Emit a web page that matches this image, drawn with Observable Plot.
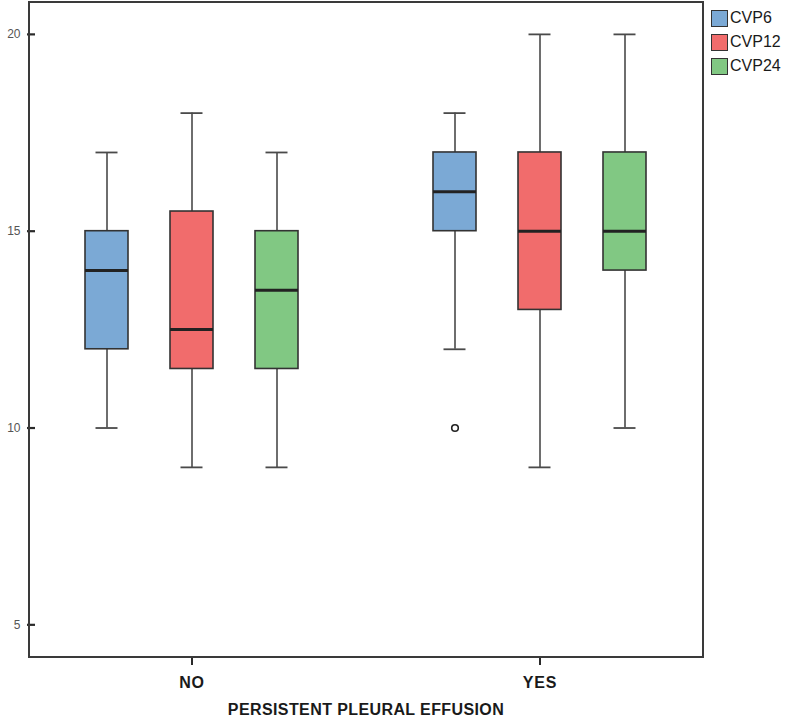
<!DOCTYPE html>
<html>
<head>
<meta charset="utf-8">
<script src="https://cdn.jsdelivr.net/npm/d3@7"></script>
<script src="https://cdn.jsdelivr.net/npm/@observablehq/plot@0.6"></script>
<style>
  html, body { margin: 0; padding: 0; background: #fff; overflow: hidden; }
  #wrap { position: relative; width: 788px; height: 719px; font-family: "Liberation Sans", Arial, sans-serif; }
  #wrap svg { display: block; }
  [aria-label^="fx-axis"] text { font-size: 16px; font-weight: bold; fill: #1a1a1a; letter-spacing: 0.8px; }
  [aria-label^="fx-axis"] line, [aria-label^="fx-axis"] path { stroke: #2a2a2a; stroke-width: 2; }
  [aria-label^="y-axis"] text { fill: #555; }
  [aria-label^="y-axis"] line, [aria-label^="y-axis"] path { stroke: #2a2a2a; stroke-width: 2.2; }
  #title { position: absolute; left: 29px; width: 674px; top: 702px; text-align: center;
           font-size: 16px; line-height: 16px; font-weight: bold; color: #1a1a1a; letter-spacing: 0.4px; }
  #legend { position: absolute; left: 711px; top: 6px; }
  .item { display: flex; align-items: center; height: 24px; }
  .sw { width: 15px; height: 15px; border: 1.5px solid #333; box-sizing: content-box; }
  .lab { margin-left: 2px; font-size: 16px; color: #1a1a1a; }
</style>
</head>
<body>
<div id="wrap"></div>
<script>
const groups = ["NO", "YES"];
const series = ["CVP6", "CVP12", "CVP24"];
const colors = ["#7ba9d5", "#f16c6c", "#81c883"];
const yTicks = [5, 10, 15, 20];

// order: NO-CVP6, NO-CVP12, NO-CVP24, YES-CVP6, YES-CVP12, YES-CVP24
const lowWhisker  = [10, 9, 9, 12, 9, 10];
const q1          = [12, 11.5, 11.5, 15, 13, 14];
const median      = [14, 12.5, 13.5, 16, 15, 15];
const q3          = [15, 15.5, 15, 17, 17, 17];
const highWhisker = [17, 18, 17, 18, 20, 20];
const outlier     = [null, null, null, 10, null, null];

const rows = [];
groups.forEach((g, gi) => series.forEach((s, si) => {
  const i = gi * series.length + si;
  rows.push({group: g, series: s, lo: lowWhisker[i], q1: q1[i], med: median[i], q3: q3[i], hi: highWhisker[i], out: outlier[i]});
}));

const W = 788, H = 719, mL = 29, mR = 85, mT = 2, mB = 62;

const chart = Plot.plot({
  width: W, height: H,
  marginLeft: mL, marginRight: mR, marginTop: mT, marginBottom: mB,
  style: {fontFamily: "'Liberation Sans', Arial, sans-serif", fontSize: "12px", color: "#2a2a2a", background: "white"},
  facet: {data: rows, x: "group"},
  fx: {domain: groups, paddingInner: 0.1, paddingOuter: 0.017, tickSize: 8, tickPadding: 11.5, label: null},
  x: {domain: series, paddingInner: 0.5, paddingOuter: 0.576, axis: null},
  y: {domain: [4.17, 20.81], ticks: yTicks, tickSize: 8, tickPadding: 7, label: null, tickFormat: d => String(d)},
  color: {domain: series, range: colors},
  marks: [
    Plot.ruleX(rows, {x: "series", y1: "lo", y2: "hi", stroke: "#4a4a4a", strokeWidth: 1.6}),
    Plot.tickY(rows, {x: "series", y: "lo", stroke: "#4a4a4a", strokeWidth: 1.8, insetLeft: 10.5, insetRight: 10.5}),
    Plot.tickY(rows, {x: "series", y: "hi", stroke: "#4a4a4a", strokeWidth: 1.8, insetLeft: 10.5, insetRight: 10.5}),
    Plot.barY(rows, {x: "series", y1: "q1", y2: "q3", fill: "series", stroke: "#333", strokeWidth: 1.6}),
    Plot.tickY(rows, {x: "series", y: "med", stroke: "#222", strokeWidth: 3}),
    Plot.dot(rows, {x: "series", y: "out", r: 3.3, stroke: "#222", strokeWidth: 1.6, fill: "white"})
  ]
});

// outer frame around the whole plotting area
d3.select(chart).append("rect")
  .attr("x", mL).attr("y", mT)
  .attr("width", W - mL - mR).attr("height", H - mT - mB)
  .attr("fill", "none").attr("stroke", "#3a3a3a").attr("stroke-width", 2);

const wrap = document.getElementById("wrap");
wrap.appendChild(chart);

const title = document.createElement("div");
title.id = "title";
title.textContent = "PERSISTENT PLEURAL EFFUSION";
wrap.appendChild(title);

const legend = document.createElement("div");
legend.id = "legend";
series.forEach((s, i) => {
  const item = document.createElement("div");
  item.className = "item";
  const sw = document.createElement("div");
  sw.className = "sw";
  sw.style.background = colors[i];
  const lab = document.createElement("span");
  lab.className = "lab";
  lab.textContent = s;
  item.appendChild(sw);
  item.appendChild(lab);
  legend.appendChild(item);
});
wrap.appendChild(legend);
</script>
</body>
</html>
